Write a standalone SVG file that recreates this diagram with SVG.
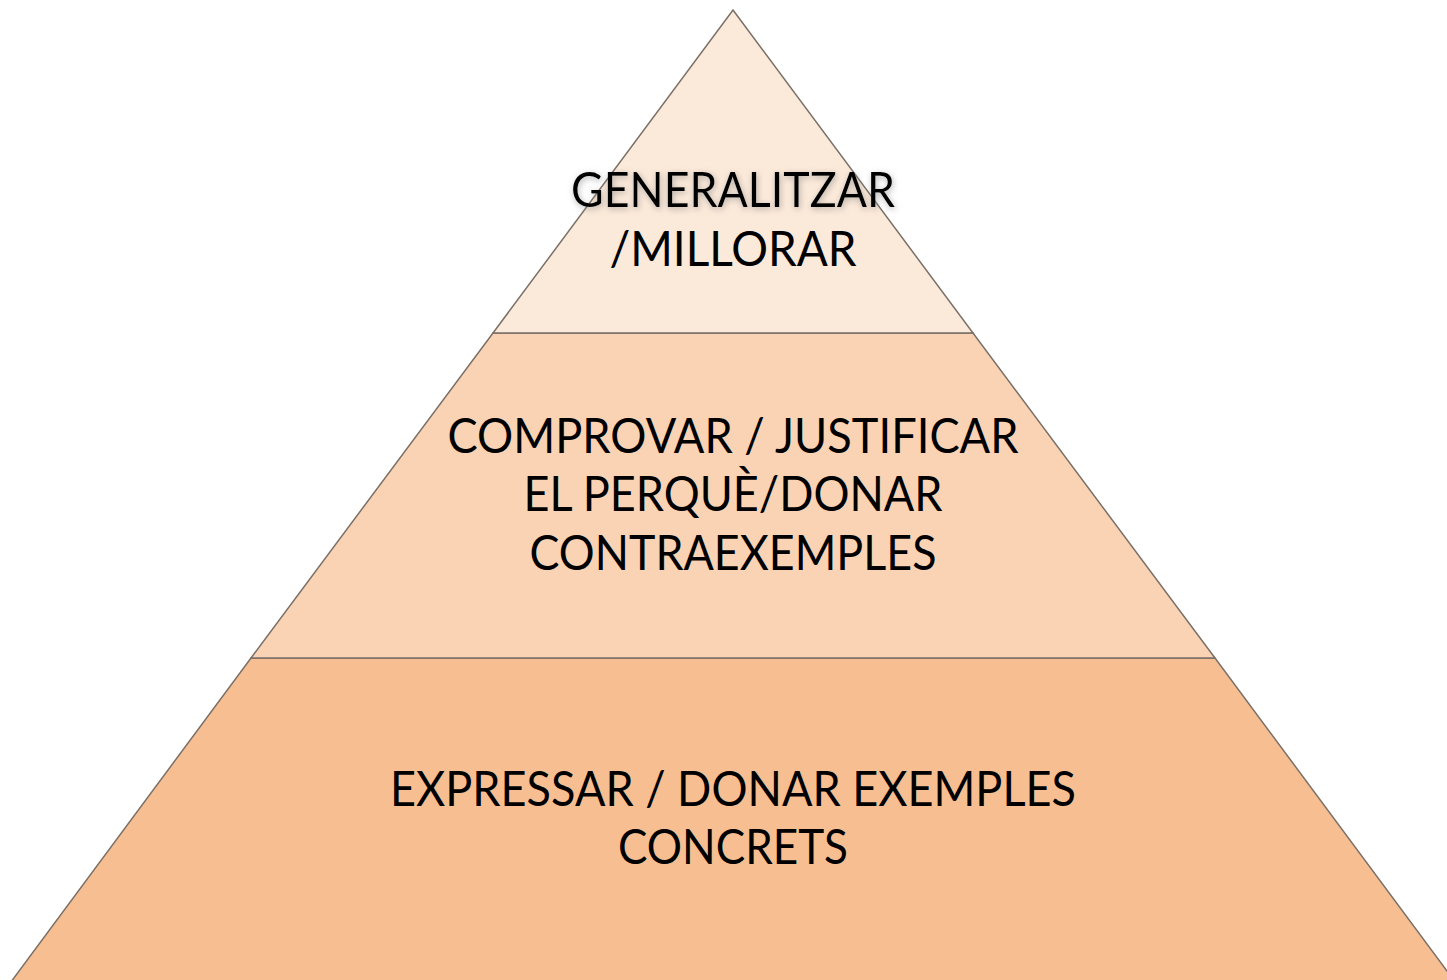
<svg xmlns="http://www.w3.org/2000/svg" width="1447" height="980" viewBox="0 0 1447 980">
<defs>
<style>
.tier{stroke:#7a7068;stroke-width:1.5;stroke-linejoin:miter}
.lbl{font-family:Lato,"Open Sans","Liberation Sans",sans-serif;font-size:48px;fill:#000;text-anchor:middle}
</style>
<filter id="glow" x="-20%" y="-50%" width="140%" height="200%">
<feGaussianBlur in="SourceAlpha" stdDeviation="3" result="b"/>
<feOffset in="b" dx="1" dy="2" result="o"/>
<feFlood flood-color="#808080" flood-opacity="0.6"/>
<feComposite in2="o" operator="in" result="s"/>
<feMerge><feMergeNode in="s"/><feMergeNode in="SourceGraphic"/></feMerge>
</filter>
</defs>
<rect width="1447" height="980" fill="#ffffff"/>
<g id="tier-bottom">
<polygon class="tier" points="251,658 1215,658 1461,990 5,990" fill="#F7BF91"/>
<text class="lbl" x="733" y="806" textLength="686" lengthAdjust="spacingAndGlyphs">EXPRESSAR / DONAR EXEMPLES</text>
<text class="lbl" x="733" y="864" textLength="230" lengthAdjust="spacingAndGlyphs">CONCRETS</text>
</g>
<g id="tier-middle">
<polygon class="tier" points="493,333 973,333 1215,658 251,658" fill="#F9D3B4"/>
<text class="lbl" x="733" y="453" textLength="571" lengthAdjust="spacingAndGlyphs">COMPROVAR / JUSTIFICAR</text>
<text class="lbl" x="733" y="511" textLength="419" lengthAdjust="spacingAndGlyphs">EL PERQUÈ/DONAR</text>
<text class="lbl" x="733" y="570" textLength="407" lengthAdjust="spacingAndGlyphs">CONTRAEXEMPLES</text>
</g>
<g id="tier-top">
<polygon class="tier" points="733,10 973,333 493,333" fill="#FBE9D9"/>
<text class="lbl" x="733" y="207" textLength="324" lengthAdjust="spacingAndGlyphs" filter="url(#glow)">GENERALITZAR</text>
<text class="lbl" x="733" y="266" textLength="247" lengthAdjust="spacingAndGlyphs">/MILLORAR</text>
</g>
</svg>
